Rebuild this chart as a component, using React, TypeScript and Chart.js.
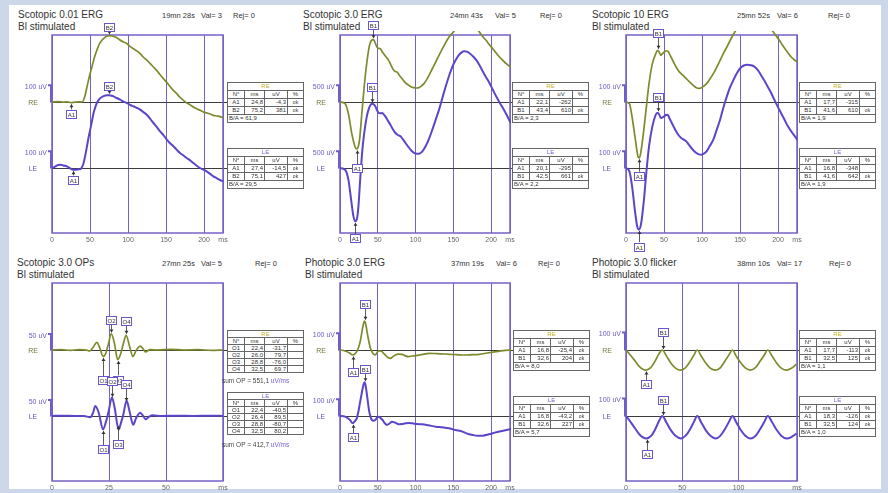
import React, { useEffect, useRef } from 'react';
import { Chart, registerables } from 'chart.js';

Chart.register(...registerables);

type Pt = [number, number];
type Row = [string, number, number];

// ---------- texts ----------
const panelTitles = ['Scotopic 0.01 ERG', 'Scotopic 3.0 ERG', 'Scotopic 10 ERG', 'Scotopic 3.0 OPs', 'Photopic 3.0 ERG', 'Photopic 3.0 flicker'];
const panelTimes = ['19mn 28s', '24mn 43s', '25mn 52s', '27mn 25s', '37mn 19s', '38mn 10s'];
const panelVal = [3, 5, 6, 5, 6, 17];
const panelRej = [0, 0, 0, 0, 0, 0];
const subTitle = 'Bl stimulated';
const scaleLabels = ['100 uV', '500 uV', '100 uV', '50 uV', '100 uV', '100 uV'];
const scaleBarUv = [100, 100, 100, 50, 100, 100];
const uvPerPx = [6, 6, 6, 3.12, 6, 5.7];

// ---------- x axes ----------
const ergTicks = [0, 50, 100, 150, 200];
const opTicks = [0, 25, 50];
const flickerTicks = [0, 50, 100];
const panelTicks = [ergTicks, ergTicks, ergTicks, opTicks, ergTicks, flickerTicks];
const panelXMax = [225, 225, 225, 75, 225, 152];
const unitLabel = 'ms';

// ---------- traces (ms, uV) ----------
const p1RE: Pt[] = [[0,0],[8,2],[15,-1],[20,1],[24.8,-4],[30,-1],[35,1],[39.5,0],[43,30],[46,90],[49,150],[52.5,210],[56,270],[59,310],[62,345],[65.6,370],[69,385],[72.2,394],[75.2,398],[78.8,396],[82,392],[85.3,386],[89,374],[94,360],[98,352],[103,332],[107,320],[112,305],[116,290],[120,270],[125,250],[129,232],[133.5,210],[138,188],[142,165],[146.6,140],[151,118],[155,95],[159.7,70],[164,50],[168,30],[172.9,10],[177,-5],[182,-18],[186,-30],[191,-42],[195,-50],[199,-60],[204,-66],[208,-72],[212,-80],[217,-84],[221,-88],[225,-94]];
const p1LE: Pt[] = [[0,0],[4,8],[8,18],[11,20],[15,15],[19.7,10],[24,-2],[27.4,-10],[31,-10],[35,-8],[37.5,-6],[40,10],[41.6,30],[44,80],[46,130],[48,180],[50.3,230],[52.5,280],[54.7,330],[57,365],[59,390],[62,412],[65.6,426],[69,433],[72.2,436],[75.1,437],[78,434],[81,430],[85,420],[89.7,410],[94,398],[98.5,390],[103,378],[107.2,370],[112,360],[116,350],[120,336],[124.7,320],[129,296],[133.5,270],[138,245],[142.2,220],[147,195],[151,170],[155,150],[159.7,130],[164,110],[168.4,90],[173,75],[177.2,60],[182,45],[186,30],[190,15],[194.7,0],[199,-10],[203.5,-20],[208,-35],[212.3,-50],[217,-62],[221,-72],[225,-80]];

const p2RE: Pt[] = [[0,0],[6.7,-10],[11.1,-70],[15.6,-190],[20,-270],[22.1,-282],[24,-270],[25.8,-230],[28.9,-70],[33.3,150],[37.8,310],[40,355],[43.4,374],[45,370],[48.9,330],[51,322],[53.3,320],[55.5,305],[57.8,290],[61,270],[64.4,250],[67.5,220],[71.1,190],[73.5,182],[75.6,180],[78.5,160],[82.2,140],[86.7,115],[91.1,100],[94.5,90],[97.8,86],[101,84],[104.4,86],[107.5,95],[111.1,110],[114.5,133],[117.8,160],[122,198],[126.7,240],[131,280],[135.6,320],[140,358],[144.4,390],[151.1,426],[157.8,480],[167,500],[175.6,480],[183.6,426],[188,398],[193.3,370],[197.5,345],[202.2,320],[206.5,295],[211.1,270],[215.5,250],[220,230],[226,210]];
const p2LE: Pt[] = [[0,0],[6.7,-10],[11.1,-70],[14.7,-190],[17.8,-290],[20.1,-320],[22.2,-310],[24.4,-230],[26.7,-70],[28.9,70],[31,170],[33.3,250],[35.5,310],[37.8,350],[40,375],[42.5,386],[44.5,382],[46.7,370],[49,348],[51.1,330],[53.3,328],[55.6,330],[57.8,322],[60,310],[63.3,285],[66.7,260],[70,232],[73.3,210],[76.5,198],[80,190],[83.3,172],[86.7,150],[90,130],[93.3,110],[96.7,95],[100,86],[103.3,85],[106.7,90],[110,106],[113.3,130],[117.8,175],[122.2,230],[126.7,290],[131.1,350],[135.5,420],[140,490],[144.5,555],[148.9,610],[153.3,650],[157.8,680],[161,694],[164.4,700],[167.8,698],[171.1,690],[175.5,672],[180,650],[184.5,618],[188.9,580],[193.3,545],[197.8,510],[202.2,470],[206.7,430],[211,395],[215.6,360],[221,315],[226,270]];

const p3RE: Pt[] = [[0,0],[4.5,-10],[8,-90],[12.5,-230],[16,-330],[17.7,-335],[19.2,-310],[22.3,-210],[25.8,-70],[30.3,110],[34.7,230],[39.2,290],[41.6,310],[43.5,300],[45.9,280],[48,290],[50.3,300],[52.5,306],[54.8,306],[57,290],[59.2,270],[62.5,240],[65.9,210],[69,188],[72.6,170],[76,155],[79.3,140],[82.6,125],[86,110],[89,98],[92.7,86],[96,82],[99.3,86],[102.5,96],[106,110],[110,135],[114.9,170],[119,205],[123.8,250],[128,290],[132.7,330],[136,360],[139.4,390],[143.9,426],[150,480],[158,530],[168,555],[178,530],[186,480],[192.9,426],[197,400],[201.8,370],[206,340],[210.7,310],[214,290],[217.4,270],[221,255],[225.4,240]];
const p3LE: Pt[] = [[0,0],[4.5,-20],[8,-110],[11.6,-250],[14.7,-350],[16.9,-370],[20,-330],[23.6,-190],[26.7,-30],[30.3,130],[34.7,250],[39.2,320],[41.6,332],[43.5,322],[45.9,300],[48,304],[50.3,310],[52.5,318],[54.8,320],[57,300],[59.2,280],[62.5,250],[65.9,220],[69,198],[72.6,180],[76,170],[79.3,160],[82.6,140],[86,120],[89.5,102],[92.7,90],[96,82],[99.3,80],[102.5,86],[106,100],[110,130],[114.9,170],[119,225],[123.8,290],[128,360],[132.7,430],[137,485],[141.6,530],[146,570],[150.5,600],[155,615],[159.5,620],[164,617],[168.4,610],[173,590],[177.3,560],[182,525],[186.2,490],[191,450],[195.1,410],[200,365],[204,330],[208,295],[213,250],[219,210],[225.4,170]];

const p4RE: Pt[] = [[0,0],[4,1],[8,-1],[12,1],[15,0],[16.5,-3],[18,8],[19.7,24],[21,5],[22.4,-20],[23.5,-12],[24.6,15],[26.0,50],[27.4,20],[28.8,-30],[30.2,-10],[31.3,20],[32.5,46],[34,12],[35.5,-20],[37,0],[38.7,12],[40,3],[41,-6],[43,1],[46,0],[52,2],[58,0],[64,1],[70,-1],[75,0]];
const p4LE: Pt[] = [[0,0],[5,1],[10,0],[14,0],[16.8,-4],[18,10],[19,31],[20.5,10],[22.4,-42],[23.6,-20],[24.7,10],[26.3,58],[27.5,25],[29.2,-42],[30.3,-20],[31.3,5],[32.7,48],[34,15],[35.6,-27],[37,-5],[38.7,10],[40,0],[41,-10],[42.5,-3],[44,2],[48,0],[55,1],[62,0],[70,1],[75,0]];

const p5RE: Pt[] = [[0,0],[6.7,-6],[13.3,-20],[16.8,-30],[20,-22],[22.2,-10],[24.5,15],[26.7,50],[28.5,95],[30.2,140],[32.4,174],[33.5,165],[34.7,140],[36.2,100],[37.8,60],[40,15],[42.2,-10],[44.5,-25],[46.7,-30],[49,-15],[51.1,-6],[53.3,-6],[55.6,-10],[58,-22],[60,-30],[63.5,-45],[66.7,-50],[70,-40],[73.3,-30],[77,-25],[82.2,-26],[86,-34],[91.1,-40],[95,-36],[100,-34],[108,-28],[117.8,-20],[128,-22],[140,-24],[150,-27],[162.2,-30],[175,-28],[184.4,-26],[195,-18],[206.7,-10],[216,-4],[226.7,0]];
const p5LE: Pt[] = [[0,0],[6.7,-4],[13.3,-24],[16.8,-44],[19.5,-32],[22.2,-14],[24.5,30],[26.7,86],[28.5,130],[30.2,170],[32.4,202],[33.6,190],[35.1,146],[36.9,85],[38.7,26],[40.5,-5],[42.2,-24],[44.5,-28],[46.7,-24],[49,-10],[51.1,-4],[53.5,-12],[56.4,-24],[59,-42],[62.2,-54],[65.5,-45],[68.9,-34],[73,-40],[77.8,-50],[82,-48],[86.7,-44],[91,-42],[95.6,-44],[102,-48],[108.9,-50],[117,-56],[126.7,-64],[135,-68],[144.4,-74],[153,-84],[162.2,-94],[170,-108],[175.6,-114],[182,-118],[188.9,-118],[197,-110],[206.7,-98],[216,-88],[226.7,-78]];

const p6RE: Pt[] = [[0,0],[4,-30],[8,-62],[12,-95],[17.3,-115],[22,-100],[26,-62],[29,-25],[32.2,0],[36,-35],[40,-75],[44,-103],[48.6,-115],[53,-100],[57,-65],[60.5,-28],[63.3,0],[67,-36],[71,-76],[75,-104],[79.7,-115],[84,-100],[88,-63],[91.8,-25],[94.6,0],[98,-35],[102,-73],[106,-102],[110.7,-115],[115,-101],[119,-66],[123,-28],[126,0],[130,-36],[134,-75],[138,-103],[142.7,-115],[147,-104],[151.6,-80]];
const p6LE: Pt[] = [[0,0],[4,-33],[8,-70],[12,-105],[18,-128],[22.5,-112],[26,-75],[29.3,-30],[32.2,0],[36,-38],[40,-82],[44,-113],[48.8,-128],[53,-112],[57,-75],[60.5,-32],[63.3,0],[67,-38],[71,-82],[75,-113],[79.7,-128],[84,-112],[88,-74],[91.8,-30],[94.6,0],[98,-36],[102,-80],[106,-112],[110.7,-128],[115,-114],[119,-77],[123,-33],[126,0],[130,-37],[134,-80],[138,-112],[142.7,-128],[147,-120],[151.6,-100]];

// ---------- result tables (label, ms, uV) ----------
const p1ReRows: Row[] = [['A1', 24.8, -4.3], ['B2', 75.2, 381]];
const p1LeRows: Row[] = [['A1', 27.4, -14.5], ['B2', 75.1, 427]];
const p2ReRows: Row[] = [['A1', 22.1, -262], ['B1', 43.4, 610]];
const p2LeRows: Row[] = [['A1', 20.1, -295], ['B1', 42.5, 661]];
const p3ReRows: Row[] = [['A1', 17.7, -315], ['B1', 41.6, 610]];
const p3LeRows: Row[] = [['A1', 16.8, -348], ['B1', 41.6, 642]];
const p4ReRows: Row[] = [['O1', 22.4, -31.7], ['O2', 26.0, 79.7], ['O3', 28.8, -76.0], ['O4', 32.5, 69.7]];
const p4LeRows: Row[] = [['O1', 22.4, -40.5], ['O2', 26.4, 89.5], ['O3', 28.8, -80.7], ['O4', 32.5, 80.2]];
const p5ReRows: Row[] = [['A1', 16.8, -25.4], ['B1', 32.6, 204]];
const p5LeRows: Row[] = [['A1', 16.8, -43.2], ['B1', 32.6, 227]];
const p6ReRows: Row[] = [['A1', 17.7, -113], ['B1', 32.5, 125]];
const p6LeRows: Row[] = [['A1', 18.3, -126], ['B1', 32.5, 124]];
const ratioRE = [61.9, 2.3, 1.9, null, 8.0, 1.1];
const ratioLE = [29.5, 2.2, 1.9, null, 5.7, 1.0];
const sumOP = [551.1, 412.7];
const statusRE = [['ok', 'ok'], ['', 'ok'], ['', 'ok'], ['', '', '', ''], ['ok', 'ok'], ['ok', 'ok']];
const statusLE = [['ok', 'ok'], ['', 'ok'], ['', 'ok'], ['', '', '', ''], ['ok', 'ok'], ['ok', 'ok']];

const reTraces = [p1RE, p2RE, p3RE, p4RE, p5RE, p6RE];
const leTraces = [p1LE, p2LE, p3LE, p4LE, p5LE, p6LE];
const reRows = [p1ReRows, p2ReRows, p3ReRows, p4ReRows, p5ReRows, p6ReRows];
const leRows = [p1LeRows, p2LeRows, p3LeRows, p4LeRows, p5LeRows, p6LeRows];

// ---------- layout / style ----------
const FONT = '"Liberation Sans", Arial, sans-serif';
const FRAME_C = '#7760c6';
const RE_C = '#7f8a2c';
const LE_C = '#5b45c9';
const BOX_C = '#6c55c8';
const FRAME_TOPS = [35, 283];
const FRAME_H = 198;
const RE_BASE = 67;
const LE_BASE = 133;
const PAD_L = 36, PAD_T = 18, PAD_R = 8, AXIS_H = 14, PAD_B = 14;
const geo = [
  { l: 52, r: 223, row: 0, tx: 18, tt: 162, tv: 201, tr: 233, tabX: 227 },
  { l: 340, r: 510, row: 0, tx: 303, tt: 450, tv: 495, tr: 540, tabX: 512 },
  { l: 626, r: 797, row: 0, tx: 592, tt: 737, tv: 777, tr: 828, tabX: 799 },
  { l: 52, r: 223, row: 1, tx: 17, tt: 162, tv: 201, tr: 255, tabX: 227 },
  { l: 340, r: 510, row: 1, tx: 305, tt: 451, tv: 496, tr: 538, tabX: 513 },
  { l: 626, r: 797, row: 1, tx: 592, tt: 737, tv: 777, tr: 829, tabX: 799 },
];
// marker box offsets (px from the trace point, negative = above), per table row
const markerDyRE = [[11, -9], [19, -15], [18, -17], [24, -14, 20, -14], [17, -17], [14, -18]];
const markerDyLE = [[10, -9], [17, -17], [17, -16], [20, -17, 20, -19], [14, -14], [16, -17]];

const fmt1 = (v: number) => v.toFixed(1).replace('.', ',');
const fmtUv = (v: number) => (Math.abs(v) >= 100 ? v.toFixed(0) : fmt1(v));

function interp(pts: Pt[], x: number) {
  for (let i = 1; i < pts.length; i++) {
    if (x <= pts[i][0]) {
      const [x0, y0] = pts[i - 1];
      const [x1, y1] = pts[i];
      return y0 + ((y1 - y0) * (x - x0)) / (x1 - x0 || 1);
    }
  }
  return pts[pts.length - 1][1];
}

function Panel({ idx }: { idx: number }) {
  const ref = useRef<HTMLCanvasElement | null>(null);
  const g = geo[idx];
  const frameTop = FRAME_TOPS[g.row];
  const w = g.r - g.l + PAD_L + PAD_R;
  const h = PAD_T + FRAME_H + AXIS_H + PAD_B;

  useEffect(() => {
    const k = uvPerPx[idx];
    const leOffset = (LE_BASE - RE_BASE) * k;
    const xMax = panelXMax[idx];
    const ticks = panelTicks[idx];
    const re = reTraces[idx];
    const le = leTraces[idx];
    const markers = [
      ...reRows[idx].map((r, i) => ({ eye: 'RE', label: r[0], ms: r[1], dy: markerDyRE[idx][i] })),
      ...leRows[idx].map((r, i) => ({ eye: 'LE', label: r[0], ms: r[1], dy: markerDyLE[idx][i] })),
    ];

    const decor = {
      id: 'ergDecor',
      beforeDatasetsDraw(chart: any) {
        const { ctx, chartArea: a, scales } = chart;
        const y = scales.y;
        ctx.save();
        const bases = [
          { name: 'RE', off: 0, col: '#77773a' },
          { name: 'LE', off: -leOffset, col: '#6656b8' },
        ];
        bases.forEach((b) => {
          const by = Math.round(y.getPixelForValue(b.off)) + 0.5;
          ctx.strokeStyle = '#3c3c3c';
          ctx.lineWidth = 1;
          ctx.beginPath();
          ctx.moveTo(a.left, by);
          ctx.lineTo(a.right + 4, by);
          ctx.stroke();
          const ty = y.getPixelForValue(b.off + scaleBarUv[idx]);
          ctx.strokeStyle = '#6d5cd0';
          ctx.lineWidth = 2;
          ctx.beginPath();
          ctx.moveTo(a.left - 4, ty);
          ctx.lineTo(a.left - 1, ty);
          ctx.lineTo(a.left - 1, by);
          ctx.stroke();
          ctx.font = `7px ${FONT}`;
          ctx.textBaseline = 'middle';
          ctx.fillStyle = '#6a5cc4';
          ctx.textAlign = 'right';
          ctx.fillText(scaleLabels[idx], a.left - 5, ty + 2);
          ctx.fillStyle = b.col;
          ctx.textAlign = 'center';
          ctx.fillText(b.name, a.left - 19, by + 1);
        });
        ctx.strokeStyle = FRAME_C;
        ctx.lineWidth = 1.5;
        ctx.strokeRect(a.left, a.top, a.right - a.left, a.bottom - a.top);
        ctx.restore();
      },
      afterDatasetsDraw(chart: any) {
        const { ctx, scales } = chart;
        const x = scales.x;
        const y = scales.y;
        ctx.save();
        markers.forEach((m) => {
          const pts = m.eye === 'RE' ? re : le;
          const off = m.eye === 'RE' ? 0 : leOffset;
          const px = Math.round(x.getPixelForValue(m.ms));
          const py = y.getPixelForValue(interp(pts, m.ms) - off);
          const cy = py + m.dy;
          const bw = 10, bh = 8;
          const up = m.dy < 0;
          const edge = up ? cy + bh / 2 : cy - bh / 2;
          const tip = up ? py - 1.5 : py + 1.5;
          ctx.strokeStyle = '#333';
          ctx.lineWidth = 0.8;
          ctx.beginPath();
          ctx.moveTo(px + 0.5, edge);
          ctx.lineTo(px + 0.5, tip);
          ctx.stroke();
          ctx.fillStyle = '#333';
          ctx.beginPath();
          ctx.moveTo(px + 0.5, tip);
          ctx.lineTo(px - 1.5, up ? tip - 3 : tip + 3);
          ctx.lineTo(px + 2.5, up ? tip - 3 : tip + 3);
          ctx.closePath();
          ctx.fill();
          ctx.fillStyle = '#fff';
          ctx.fillRect(px - bw / 2 + 0.5, cy - bh / 2, bw, bh);
          ctx.strokeStyle = BOX_C;
          ctx.lineWidth = 1;
          ctx.strokeRect(px - bw / 2 + 0.5, Math.round(cy - bh / 2) + 0.5, bw, bh);
          ctx.fillStyle = '#333';
          ctx.font = `6px ${FONT}`;
          ctx.textAlign = 'center';
          ctx.textBaseline = 'middle';
          ctx.fillText(m.label, px + 0.5, Math.round(cy) + 1);
        });
        ctx.restore();
      },
    };

    const clip = { left: 1, top: 4, right: 1, bottom: 4 };
    const chart = new Chart(ref.current as HTMLCanvasElement, {
      type: 'line',
      data: {
        datasets: [
          {
            data: re.map(([xv, yv]) => ({ x: xv, y: yv })),
            borderColor: RE_C,
            borderWidth: 1.7,
            pointRadius: 0,
            cubicInterpolationMode: 'monotone',
            clip,
          },
          {
            data: le.map(([xv, yv]) => ({ x: xv, y: yv - leOffset })),
            borderColor: LE_C,
            borderWidth: 2,
            pointRadius: 0,
            cubicInterpolationMode: 'monotone',
            clip,
          },
        ],
      } as any,
      options: {
        responsive: false,
        animation: false,
        devicePixelRatio: 1,
        events: [],
        layout: { padding: { left: PAD_L, top: PAD_T, right: PAD_R, bottom: PAD_B } },
        plugins: { legend: { display: false }, tooltip: { enabled: false } },
        scales: {
          x: {
            type: 'linear',
            min: 0,
            max: xMax,
            afterBuildTicks: (s: any) => {
              s.ticks = [...ticks, xMax].map((v) => ({ value: v }));
            },
            afterFit: (s: any) => {
              s.height = AXIS_H;
            },
            ticks: {
              autoSkip: false,
              maxRotation: 0,
              padding: 3,
              color: '#666',
              font: { size: 7, family: FONT },
              callback: (v: any) => (v === xMax ? unitLabel : String(v)),
            },
            grid: { color: FRAME_C, lineWidth: 1, drawTicks: false },
            border: { display: false },
          },
          y: {
            display: false,
            min: -(FRAME_H - RE_BASE) * k,
            max: RE_BASE * k,
          },
        },
      } as any,
      plugins: [decor],
    });
    return () => chart.destroy();
  }, [idx]);

  return (
    <canvas
      ref={ref}
      width={w}
      height={h}
      style={{ position: 'absolute', left: g.l - PAD_L, top: frameTop - PAD_T, width: w, height: h }}
    />
  );
}

const LINE = '1px solid #666';

function ResultTable({ x, y, eye, rows, status, ratio, rowH }: any) {
  const cell: React.CSSProperties = {
    borderRight: LINE,
    borderBottom: LINE,
    boxSizing: 'border-box',
    overflow: 'hidden',
    whiteSpace: 'nowrap',
    lineHeight: `${rowH - 1}px`,
    padding: '0 1px',
  };
  return (
    <div
      style={{
        position: 'absolute',
        left: x,
        top: y,
        display: 'grid',
        gridTemplateColumns: '17px 20px 23px 16px',
        gridAutoRows: `${rowH}px`,
        borderTop: LINE,
        borderLeft: LINE,
        background: '#fff',
        fontSize: '6px',
        fontFamily: FONT,
        color: '#333',
      }}
    >
      <div style={{ ...cell, gridColumn: '1 / 5', textAlign: 'center', color: eye === 'RE' ? '#c2b21c' : '#7a5cd0' }}>{eye}</div>
      <div style={{ ...cell, textAlign: 'center' }}>N°</div>
      <div style={{ ...cell, textAlign: 'center' }}>ms</div>
      <div style={{ ...cell, textAlign: 'center' }}>uV</div>
      <div style={{ ...cell, textAlign: 'center' }}>%</div>
      {rows.map((r: Row, i: number) => (
        <React.Fragment key={i}>
          <div style={{ ...cell, textAlign: 'center' }}>{r[0]}</div>
          <div style={{ ...cell, textAlign: 'right' }}>{fmt1(r[1])}</div>
          <div style={{ ...cell, textAlign: 'right' }}>{fmtUv(r[2])}</div>
          <div style={{ ...cell, textAlign: 'center', fontSize: '5px' }}>{status[i]}</div>
        </React.Fragment>
      ))}
      {ratio !== null && ratio !== undefined && (
        <div style={{ ...cell, gridColumn: '1 / 5', textAlign: 'left' }}>{`B/A = ${fmt1(ratio)}`}</div>
      )}
    </div>
  );
}

function Header({ idx }: { idx: number }) {
  const g = geo[idx];
  const top = FRAME_TOPS[g.row];
  const t: React.CSSProperties = { position: 'absolute', fontSize: '10px', fontFamily: FONT, color: '#333', whiteSpace: 'nowrap', lineHeight: '12px' };
  const info: React.CSSProperties = { ...t, fontSize: '7.5px', top: top - 25 };
  return (
    <>
      <div style={{ ...t, left: g.tx, top: top - 26 }}>{panelTitles[idx]}</div>
      <div style={{ ...t, left: g.tx, top: top - 14 }}>{subTitle}</div>
      <div style={{ ...info, left: g.tt }}>{panelTimes[idx]}</div>
      <div style={{ ...info, left: g.tv }}>{`Val= ${panelVal[idx]}`}</div>
      <div style={{ ...info, left: g.tr }}>{`Rej= ${panelRej[idx]}`}</div>
    </>
  );
}

function Tables({ idx }: { idx: number }) {
  const g = geo[idx];
  const top = FRAME_TOPS[g.row];
  if (idx === 3) {
    const s: React.CSSProperties = { position: 'absolute', fontSize: '6.5px', fontFamily: FONT, color: '#444', whiteSpace: 'nowrap', lineHeight: '8px' };
    return (
      <>
        <ResultTable x={g.tabX} y={top + 47} eye="RE" rows={reRows[idx]} status={statusRE[idx]} ratio={null} rowH={7} />
        <div style={{ ...s, left: g.tabX - 5, top: top + 94 }}>
          {`sum OP = ${fmt1(sumOP[0])} `}<span style={{ color: '#7a5cd0' }}>uV/ms</span>
        </div>
        <ResultTable x={g.tabX} y={top + 109} eye="LE" rows={leRows[idx]} status={statusLE[idx]} ratio={null} rowH={7} />
        <div style={{ ...s, left: g.tabX - 5, top: top + 158 }}>
          {`sum OP = ${fmt1(sumOP[1])} `}<span style={{ color: '#7a5cd0' }}>uV/ms</span>
        </div>
      </>
    );
  }
  return (
    <>
      <ResultTable x={g.tabX} y={top + 47} eye="RE" rows={reRows[idx]} status={statusRE[idx]} ratio={ratioRE[idx]} rowH={8} />
      <ResultTable x={g.tabX} y={top + 113} eye="LE" rows={leRows[idx]} status={statusLE[idx]} ratio={ratioLE[idx]} rowH={8} />
    </>
  );
}

export default function App() {
  const ids = [0, 1, 2, 3, 4, 5];
  return (
    <div style={{ position: 'fixed', left: 0, top: 0, width: 888, height: 493, overflow: 'hidden', background: '#ccd7e9' }}>
      <div style={{ position: 'absolute', left: 9, top: 5, width: 872, height: 484, background: '#fff' }} />
      {ids.map((i) => (
        <Header key={'h' + i} idx={i} />
      ))}
      {ids.map((i) => (
        <Panel key={'p' + i} idx={i} />
      ))}
      {ids.map((i) => (
        <Tables key={'t' + i} idx={i} />
      ))}
    </div>
  );
}
